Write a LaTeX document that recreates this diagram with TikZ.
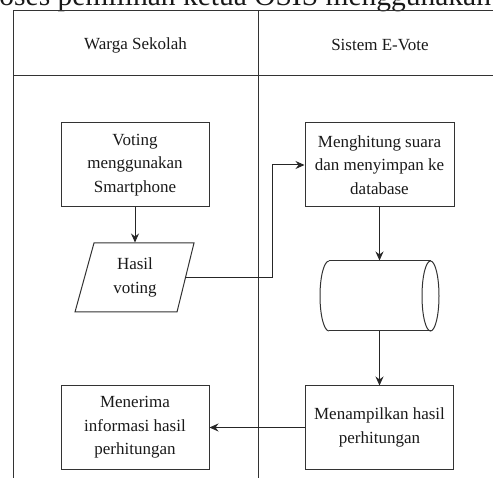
\documentclass[tikz,border=0pt]{standalone}
\usepackage{fontspec}
\setmainfont{Liberation Serif}
\usetikzlibrary{arrows.meta}
\begin{document}
\begin{tikzpicture}[x=1pt,y=-1pt,line width=1pt,
  ln/.style={draw=black!80},
  txt/.style={font=\fontsize{17}{23.5}\selectfont, align=center, text=black!90},
  box/.style={txt, draw=black!80, minimum width=148pt, minimum height=84pt, inner sep=0pt},
  arr/.style={draw=black!85, -{Stealth[length=9pt,width=8pt,inset=3pt]}}]
\useasboundingbox (0,0) rectangle (493,478);
\clip (0,0) rectangle (493,478);

% title (cut at top)
\node[anchor=base west, font=\fontsize{29.5}{30}\selectfont, inner sep=0pt, text=black!90] (title) at (-1,5.2) {\llap{Pr}oses pemilihan ketua OSIS menggunakan E-Vote};

% swimlane frame
\draw[ln] (13,478) -- (13,11) -- (493,11);
\draw[ln] (13,76) -- (493,76);
\draw[ln] (258,11) -- (258,478);

\node[txt] (lane1) at (135.5,45) {Warga Sekolah};
\node[txt] (lane2) at (380,45) {Sistem E-Vote};

% nodes
\node[box] (vote) at (135,165) {Voting\\menggunakan\\Smartphone};
\node[box, minimum width=149pt] (hit) at (379.5,165) {Menghitung suara\\dan menyimpan ke\\database};
\node[box, minimum height=83pt] (tam) at (379.5,427.5) {Menampilkan hasil\\perhitungan};
\node[box, minimum height=83pt] (ter) at (135,427.5) {Menerima\\informasi hasil\\perhitungan};

% parallelogram
\draw[ln] (94,243) -- (194,243) -- (177,312) -- (75,312) -- cycle;
\node[txt, minimum height=69pt, inner sep=0pt] (hv) at (135,277.5) {Hasil\\voting};
\coordinate (hvr) at (185.4,278);
\coordinate (bend) at (272,278);

% database cylinder
\node[minimum width=119pt, minimum height=70pt, inner sep=0pt] (db) at (379.5,296) {};
\draw[ln] (329,261) -- (430.5,261) (329,331) -- (430.5,331);
\draw[ln] (430.5,296) ellipse [x radius=8.5, y radius=35];
\draw[ln] (329,331) arc[start angle=90, end angle=270, x radius=9, y radius=35];

% connectors
\draw[arr] (vote.south) -- (hv.north);
\draw[arr] (hvr) -- (bend) |- (hit.west);
\draw[arr] (hit.south) -- (db.north);
\draw[arr] (db.south) -- (tam.north);
\draw[arr] (tam.west) -- (ter.east);
\end{tikzpicture}
\end{document}
